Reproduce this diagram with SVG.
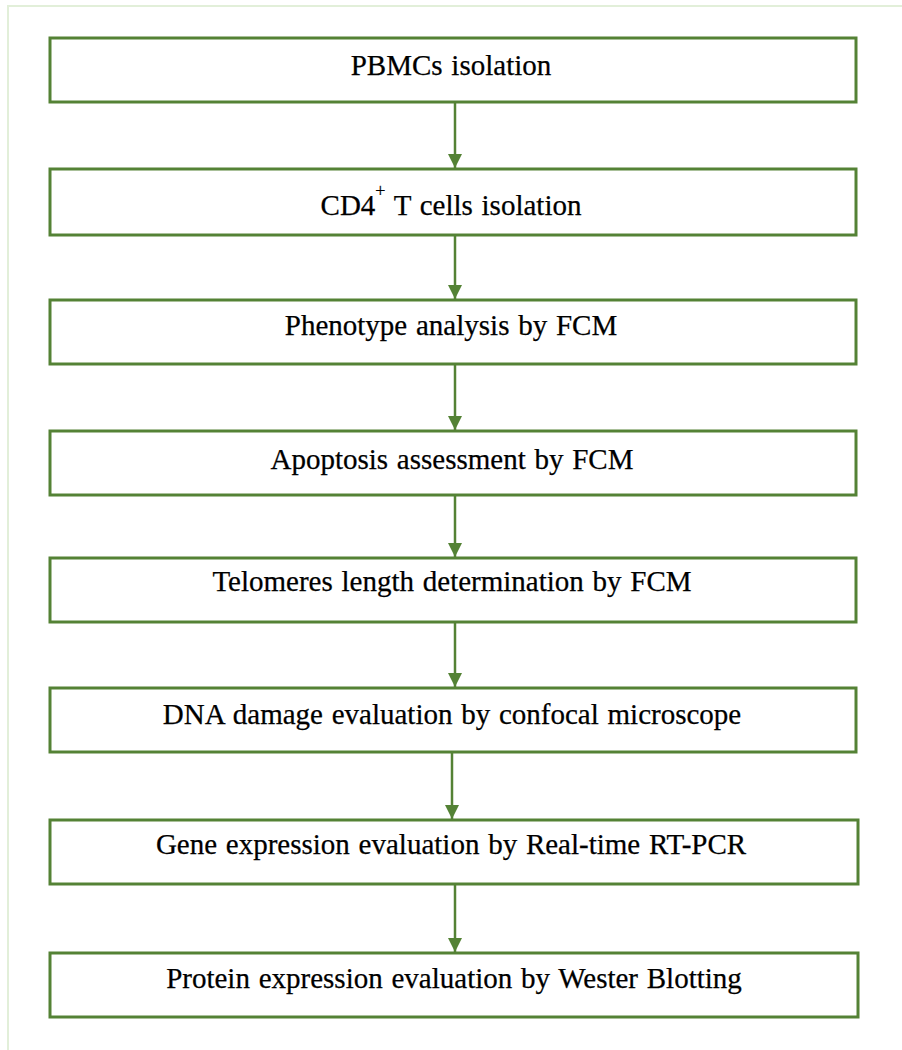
<svg xmlns="http://www.w3.org/2000/svg" width="902" height="1050" viewBox="0 0 902 1050">
  <style>
    .box { fill: #ffffff; stroke: #548235; stroke-width: 3; }
    .lbl { font-family: "Liberation Serif", "Times New Roman", serif; font-size: 29px; word-spacing: 1.5px; fill: #000000; stroke: #000000; stroke-width: 0.25; text-anchor: middle; }
    .conn { stroke: #548235; stroke-width: 2.5; fill: none; }
  </style>
  <defs>
    <marker id="arr" markerUnits="userSpaceOnUse" markerWidth="14" markerHeight="16" refX="14" refY="7" orient="auto">
      <path d="M0,0 L14,7 L0,14 Z" fill="#548235"/>
    </marker>
  </defs>
  <rect x="0" y="0" width="902" height="1050" fill="#ffffff"/>
  <path d="M8,1050 L8,6 L902,6" fill="none" stroke="#e2efd9" stroke-width="2"/>

  <g id="connectors">
    <line class="conn" x1="455" y1="103" x2="455" y2="168" marker-end="url(#arr)"/>
    <line class="conn" x1="455" y1="236" x2="455" y2="299" marker-end="url(#arr)"/>
    <line class="conn" x1="455" y1="365" x2="455" y2="430" marker-end="url(#arr)"/>
    <line class="conn" x1="455" y1="496" x2="455" y2="557" marker-end="url(#arr)"/>
    <line class="conn" x1="455" y1="623" x2="455" y2="687" marker-end="url(#arr)"/>
    <line class="conn" x1="452" y1="753" x2="452" y2="819" marker-end="url(#arr)"/>
    <line class="conn" x1="455" y1="885" x2="455" y2="952" marker-end="url(#arr)"/>
  </g>

  <g id="n1">
    <rect class="box" x="50" y="38" width="806" height="64"/>
    <text class="lbl" x="451" y="75">PBMCs isolation</text>
  </g>
  <g id="n2">
    <rect class="box" x="50" y="169" width="806" height="66"/>
    <text class="lbl" x="451" y="215">CD4<tspan font-size="18" dy="-18">+</tspan><tspan dy="18"> T cells isolation</tspan></text>
  </g>
  <g id="n3">
    <rect class="box" x="50" y="300" width="806" height="64"/>
    <text class="lbl" x="451" y="335">Phenotype analysis by FCM</text>
  </g>
  <g id="n4">
    <rect class="box" x="50" y="431" width="806" height="64"/>
    <text class="lbl" x="452" y="469">Apoptosis assessment by FCM</text>
  </g>
  <g id="n5">
    <rect class="box" x="50" y="558" width="806" height="64"/>
    <text class="lbl" x="452" y="591">Telomeres length determination by FCM</text>
  </g>
  <g id="n6">
    <rect class="box" x="50" y="688" width="806" height="64"/>
    <text class="lbl" x="452" y="724">DNA damage evaluation by confocal microscope</text>
  </g>
  <g id="n7">
    <rect class="box" x="50" y="820" width="808" height="64"/>
    <text class="lbl" x="451" y="854">Gene expression evaluation by Real-time RT-PCR</text>
  </g>
  <g id="n8">
    <rect class="box" x="50" y="953" width="808" height="64"/>
    <text class="lbl" x="454" y="988">Protein expression evaluation by Wester Blotting</text>
  </g>
</svg>
